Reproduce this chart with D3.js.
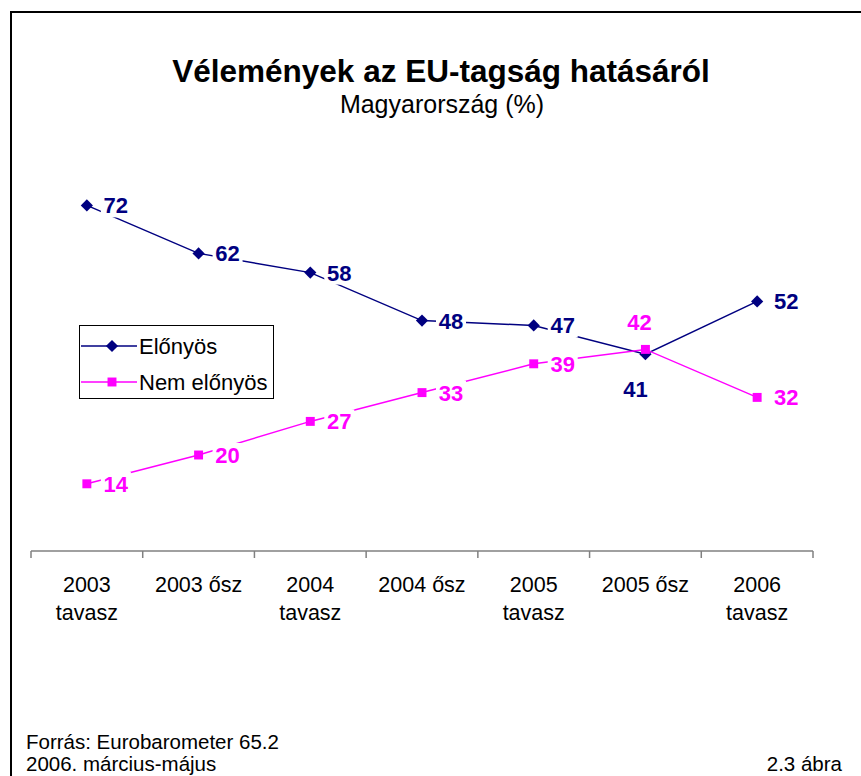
<!DOCTYPE html>
<html>
<head>
<meta charset="utf-8">
<script src="https://cdn.jsdelivr.net/npm/d3@7"></script>
<style>
  body { margin: 0; background: #fff; }
  text { font-family: "Liberation Sans", Arial, sans-serif; }
</style>
</head>
<body>
<svg id="chart" width="861" height="776"></svg>
<script>
// categories and series
const periods = [["2003", "tavasz"], ["2003 ősz"], ["2004", "tavasz"], ["2004 ősz"], ["2005", "tavasz"], ["2005 ősz"], ["2006", "tavasz"]];
const elonyos = [72, 62, 58, 48, 47, 41, 52];
const nemElonyos = [14, 20, 27, 33, 39, 42, 32];
const seriesNames = ["Előnyös", "Nem előnyös"];
// where each label sits relative to its point
const elonyosPos = ["r", "r", "r", "r", "r", "b", "r"];
const nemPos = ["r", "r", "r", "r", "r", "t", "r"];

const svg = d3.select("#chart");
const navy = "#000080", pink = "#ff00ff";

// outer frame (only left and top visible)
svg.append("path").attr("d", "M11,776 V12 H861").attr("fill", "none")
    .attr("stroke", "#000").attr("stroke-width", 2);

svg.append("text").attr("x", 441).attr("y", 82).attr("text-anchor", "middle")
    .style("font-size", "31.5px").style("font-weight", "bold").text("Vélemények az EU-tagság hatásáról");
svg.append("text").attr("x", 442).attr("y", 113).attr("text-anchor", "middle")
    .style("font-size", "25px").text("Magyarország (%)");

const x = d3.scaleBand().domain(d3.range(periods.length)).range([31, 813]);
const y = d3.scaleLinear().domain([0, 80]).range([551, 167]);
const cx = i => x(i) + x.bandwidth() / 2;

// category axis
const xAxis = svg.append("g").attr("transform", "translate(0,551)");
xAxis.append("line").attr("x1", 31).attr("x2", 813).attr("stroke", "#808080").attr("stroke-width", 1.5);
xAxis.selectAll("line.tick").data(d3.range(periods.length + 1)).join("line")
    .attr("class", "tick")
    .attr("x1", d => d < periods.length ? x(d) : 813).attr("x2", d => d < periods.length ? x(d) : 813)
    .attr("y1", 0).attr("y2", 7).attr("stroke", "#808080").attr("stroke-width", 1.5);
xAxis.selectAll("text").data(periods).join("text")
    .attr("x", (d, i) => cx(i)).attr("y", 41).attr("text-anchor", "middle")
    .style("font-size", "21.5px")
    .selectAll("tspan").data(d => d).join("tspan")
    .attr("x", function () { return d3.select(this.parentNode).attr("x"); })
    .attr("dy", (d, j) => j ? 28 : 0).text(d => d);

const line = d3.line().x((d, i) => cx(i)).y(d => y(d));
const symSize = s => s === d3.symbolSquare ? 80 : 95;

function drawSeries(vals, color, shape) {
  svg.append("path").datum(vals).attr("d", line).attr("fill", "none")
      .attr("stroke", color).attr("stroke-width", 1.5);
  svg.append("g").selectAll("path").data(vals).join("path")
      .attr("transform", (d, i) => `translate(${cx(i)},${y(d)})`)
      .attr("d", d3.symbol(shape, symSize(shape)))
      .attr("fill", color);
}
drawSeries(elonyos, navy, d3.symbolDiamond2);
drawSeries(nemElonyos, pink, d3.symbolSquare);

function drawLabels(vals, pos, color) {
  const g = svg.append("g").selectAll("g").data(vals).join("g")
      .attr("transform", (d, i) => {
        const p = pos[i];
        if (p === "r") return `translate(${cx(i) + 29},${y(d)})`;
        if (p === "t") return `translate(${cx(i) - 6},${y(d) - 27})`;
        return `translate(${cx(i) - 10},${y(d) + 35})`;
      });
  g.append("rect").attr("x", -15).attr("y", -12).attr("width", 30).attr("height", 24).attr("fill", "#fff");
  g.append("text").attr("text-anchor", "middle").attr("dy", "0.36em")
      .style("font-size", "22px").style("font-weight", "bold").attr("fill", color).text(d => d);
}
drawLabels(elonyos, elonyosPos, navy);
drawLabels(nemElonyos, nemPos, pink);

// legend
const legend = svg.append("g");
legend.append("rect").attr("x", 79.5).attr("y", 325.5).attr("width", 194).attr("height", 73)
    .attr("fill", "#fff").attr("stroke", "#000");
[[navy, d3.symbolDiamond2, 346], [pink, d3.symbolSquare, 382]].forEach(([c, s, ly], k) => {
  legend.append("line").attr("x1", 81).attr("x2", 137).attr("y1", ly).attr("y2", ly)
      .attr("stroke", c).attr("stroke-width", 1.5);
  legend.append("path").attr("transform", `translate(112,${ly})`)
      .attr("d", d3.symbol(s, symSize(s))).attr("fill", c);
  legend.append("text").attr("x", 139).attr("y", ly).attr("dy", "0.36em")
      .style("font-size", "22px").text(seriesNames[k]);
});

// footer
svg.append("text").attr("x", 26).attr("y", 749).style("font-size", "20.5px").text("Forrás: Eurobarometer 65.2");
svg.append("text").attr("x", 26).attr("y", 771).style("font-size", "20.5px").text("2006. március-május");
svg.append("text").attr("x", 842).attr("y", 771).attr("text-anchor", "end").style("font-size", "20.5px").text("2.3 ábra");
</script>
</body>
</html>
